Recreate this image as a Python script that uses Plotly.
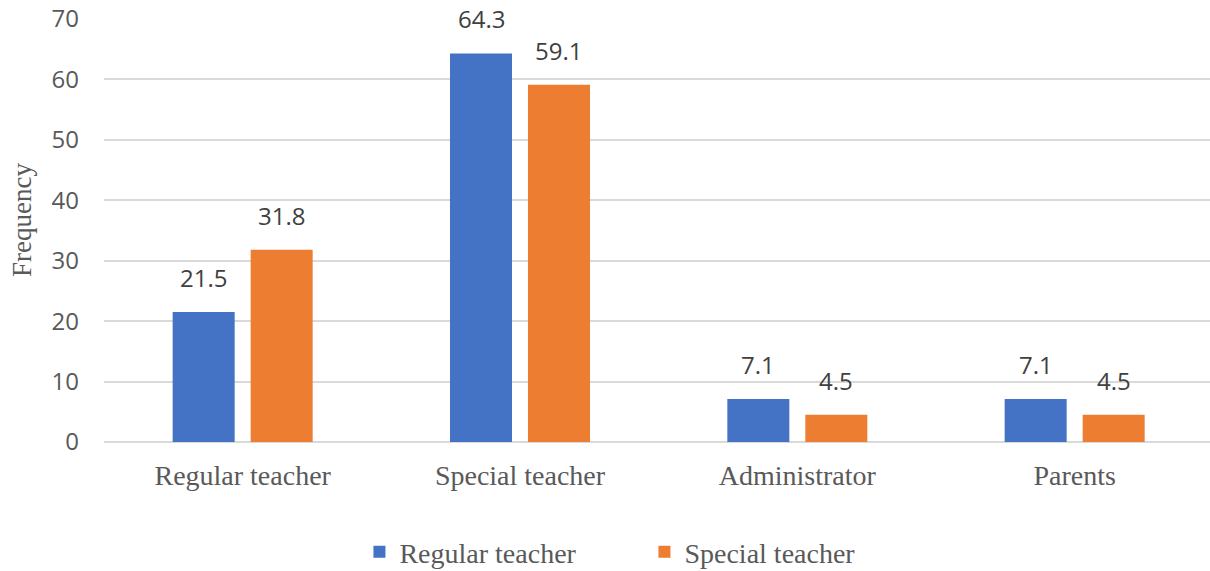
import plotly.graph_objects as go

# Respondent groups and percentages per rater type
categories = ["Regular teacher", "Special teacher", "Administrator", "Parents"]
regular_teacher = [21.5, 64.3, 7.1, 7.1]
special_teacher = [31.8, 59.1, 4.5, 4.5]
y_ticks = [0, 10, 20, 30, 40, 50, 60, 70]

BLUE = "#4472C4"
ORANGE = "#ED7D31"
SERIF = "Liberation Serif, Times New Roman, serif"
SANS = "Open Sans, Noto Sans, sans-serif"

W, H = 1210, 571
M_L, M_R, M_T, M_B = 104, 0, 19, 129
BARGAP = 0.4375
X_RANGE = [-0.5, 3.488]

fig = go.Figure()
fig.add_trace(go.Bar(name="Regular teacher", x=categories, y=regular_teacher,
                     marker=dict(color=BLUE, line=dict(width=0))))
fig.add_trace(go.Bar(name="Special teacher", x=categories, y=special_teacher,
                     marker=dict(color=ORANGE, line=dict(width=0))))

# value labels above each bar, shifted onto the bar centres of the group
px_per_cat = (W - M_L - M_R) / (X_RANGE[1] - X_RANGE[0])
half_slot = px_per_cat * (1 - BARGAP) / 4
for values, sign in ((regular_teacher, -1), (special_teacher, 1)):
    for cat, v in zip(categories, values):
        fig.add_annotation(x=cat, y=v, xref="x", yref="y", text=f"{v}",
                           showarrow=False, xshift=sign * half_slot, yshift=16,
                           yanchor="bottom",
                           font=dict(family=SANS, size=24, color="#404040"))

# vertical axis title
fig.add_annotation(text="Frequency", xref="paper", yref="paper",
                   x=-0.0735, y=0.524, textangle=-90, showarrow=False,
                   xanchor="center", yanchor="middle",
                   font=dict(family=SERIF, size=27, color="#595959"))

fig.update_layout(
    width=W, height=H,
    margin=dict(l=M_L, r=M_R, t=M_T, b=M_B, pad=0),
    paper_bgcolor="white", plot_bgcolor="white",
    barmode="group", bargap=BARGAP, bargroupgap=0.205,
    showlegend=True,
    legend=dict(orientation="h", xref="container", x=0.5326, xanchor="center",
                yref="container", y=0.033, yanchor="middle",
                font=dict(family=SERIF, size=28, color="#595959"),
                itemwidth=30, entrywidth=240),
    xaxis=dict(range=X_RANGE, showgrid=False, showline=False, zeroline=False,
               ticks="", ticklabelstandoff=14,
               tickfont=dict(family=SERIF, size=28, color="#595959")),
    yaxis=dict(range=[0, 70], tickvals=y_ticks, showgrid=True,
               gridcolor="#d9d9d9", gridwidth=1.5, zeroline=True,
               zerolinecolor="#d9d9d9", zerolinewidth=1.5, showline=False,
               ticks="", ticklabelstandoff=24,
               tickfont=dict(family=SANS, size=24, color="#595959")),
)

fig.write_html("out.html")
